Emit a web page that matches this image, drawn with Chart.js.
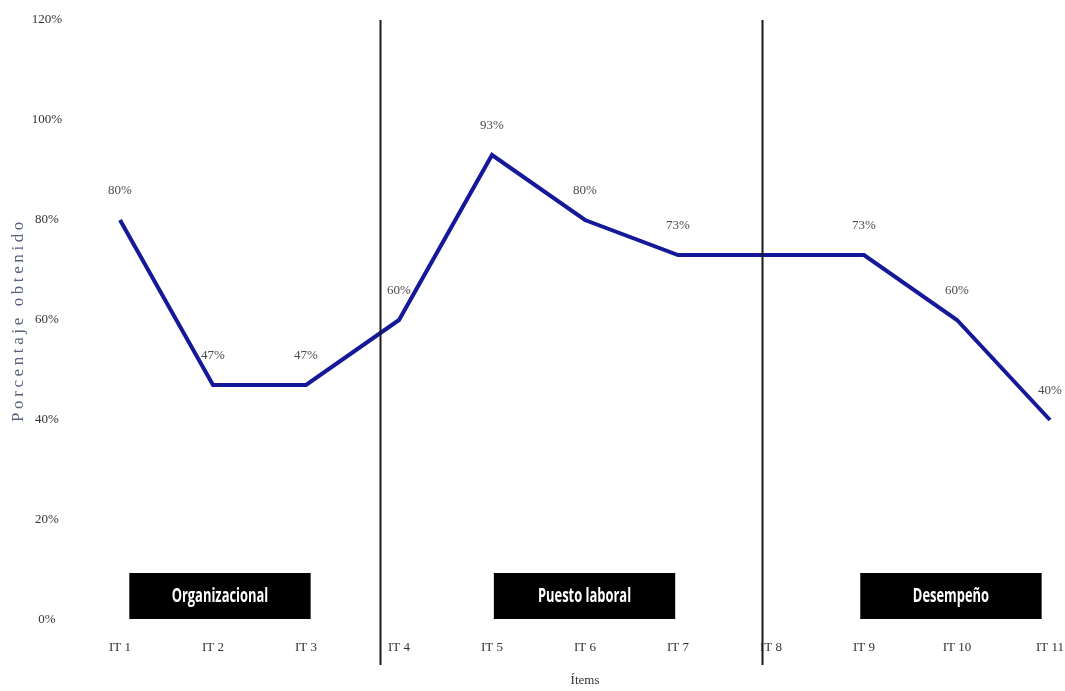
<!DOCTYPE html>
<html>
<head>
<meta charset="utf-8">
<script src="https://cdn.jsdelivr.net/npm/chart.js@4/dist/chart.umd.min.js"></script>
<style>
  html, body { margin: 0; padding: 0; background: #ffffff; }
  #wrap { width: 1065px; height: 691px; }
</style>
</head>
<body>
<div id="wrap"><canvas id="grafico" width="1065" height="691"></canvas></div>
<script>
// Ítems evaluados y porcentaje obtenido en cada uno
const items = ['IT 1', 'IT 2', 'IT 3', 'IT 4', 'IT 5', 'IT 6', 'IT 7', 'IT 8', 'IT 9', 'IT 10', 'IT 11'];
const porcentajes = [80, 47, 47, 60, 93, 80, 73, 73, 73, 60, 40];
// IT 8 se dibuja sin etiqueta de valor
const conEtiqueta = [true, true, true, true, true, true, true, false, true, true, true];
// Marcas del eje vertical (en %)
const marcasY = [0, 20, 40, 60, 80, 100, 120];
// Dimensiones agrupadas
const dimensiones = ['Organizacional', 'Puesto laboral', 'Desempeño'];
const tituloY = 'Porcentaje obtenido';

const serif = '"Liberation Serif", "DejaVu Serif", serif';
const narrow = '"Liberation Sans Narrow", "Open Sans", sans-serif';

// Separadores verticales, cajas de dimensión, etiquetas de valor y título del eje Y
const decoracion = {
  id: 'decoracion',
  afterDatasetsDraw(chart, args, opts) {
    const { ctx, chartArea, scales: { x, y } } = chart;
    ctx.save();

    // etiquetas de valor sobre cada punto
    ctx.font = '13px ' + serif;
    ctx.fillStyle = '#4a4a4a';
    ctx.textAlign = 'center';
    ctx.textBaseline = 'middle';
    const meta = chart.getDatasetMeta(0);
    meta.data.forEach((pt, i) => {
      if (!conEtiqueta[i]) return;
      ctx.fillText(porcentajes[i] + '%', pt.x, pt.y - opts.labelOffset);
    });

    // líneas que separan las dimensiones
    ctx.strokeStyle = opts.sepColor;
    ctx.lineWidth = opts.sepWidth;
    opts.separadores.forEach(v => {
      const px = Math.round(x.getPixelForValue(v)) + 0.5;
      ctx.beginPath();
      ctx.moveTo(px, chartArea.top);
      ctx.lineTo(px, chartArea.bottom + opts.sepExtra);
      ctx.stroke();
    });

    // cajas negras con el nombre de cada dimensión
    opts.cajas.forEach((c, i) => {
      const x0 = x.getPixelForValue(c[0]);
      const x1 = x.getPixelForValue(c[1]);
      const yTop = y.getPixelForValue(opts.cajaAlto);
      const yBot = y.getPixelForValue(opts.cajaBase);
      ctx.fillStyle = '#000000';
      ctx.fillRect(x0, yTop, x1 - x0, yBot - yTop);
      ctx.save();
      ctx.translate((x0 + x1) / 2, (yTop + yBot) / 2 + 1);
      ctx.scale(opts.textoEstrecho, 1);
      ctx.fillStyle = '#ffffff';
      ctx.font = 'bold 19px ' + narrow;
      ctx.textAlign = 'center';
      ctx.textBaseline = 'middle';
      ctx.fillText(dimensiones[i], 0, 0);
      ctx.restore();
    });

    // título del eje vertical, con espaciado entre letras
    ctx.save();
    ctx.translate(opts.tituloX, (chartArea.top + chartArea.bottom) / 2);
    ctx.rotate(-Math.PI / 2);
    ctx.font = '17px ' + serif;
    ctx.letterSpacing = '3.6px';
    ctx.fillStyle = '#56627e';
    ctx.textAlign = 'center';
    ctx.textBaseline = 'middle';
    ctx.fillText(tituloY, 0, 0);
    ctx.restore();

    ctx.restore();
  }
};

new Chart(document.getElementById('grafico'), {
  type: 'line',
  data: {
    labels: items,
    datasets: [{
      data: porcentajes,
      borderColor: '#16189a',
      borderWidth: 4,
      pointRadius: 0,
      tension: 0,
      fill: false
    }]
  },
  options: {
    responsive: false,
    devicePixelRatio: 1,
    animation: false,
    layout: { padding: { left: 0, right: 15, top: 20, bottom: 0 } },
    plugins: {
      legend: { display: false },
      tooltip: { enabled: false },
      decoracion: {
        labelOffset: 29,
        sepColor: '#1a1a1a',
        sepWidth: 2,
        sepExtra: 45,
        separadores: [2.8, 6.9],
        cajas: [[0.1, 2.05], [4.02, 5.97], [7.96, 9.91]],
        cajaBase: 0.2,
        cajaAlto: 9.4,
        textoEstrecho: 0.68,
        tituloX: 19
      }
    },
    scales: {
      x: {
        type: 'category',
        offset: false,
        grid: { display: false, drawTicks: false },
        border: { display: false },
        ticks: {
          color: '#333333',
          font: { family: serif, size: 13 },
          padding: 20,
          maxRotation: 0,
          autoSkip: false
        },
        title: {
          display: true,
          text: 'Ítems',
          color: '#333333',
          font: { family: serif, size: 13 },
          padding: { top: 4, bottom: 3 }
        },
        afterFit(scale) {
          scale.height = 71;
          scale.paddingLeft = 0;
          scale.paddingRight = 0;
        }
      },
      y: {
        min: 0,
        max: 120,
        grid: { display: false, drawTicks: false },
        border: { display: false },
        afterBuildTicks(scale) { scale.ticks = marcasY.map(v => ({ value: v })); },
        ticks: {
          color: '#333333',
          font: { family: serif, size: 13 },
          crossAlign: 'center',
          padding: 58,
          callback: v => v + '%'
        },
        afterFit(scale) {
          scale.width = 120;
          scale.paddingTop = 0;
          scale.paddingBottom = 0;
        }
      }
    }
  },
  plugins: [decoracion]
});
</script>
</body>
</html>
